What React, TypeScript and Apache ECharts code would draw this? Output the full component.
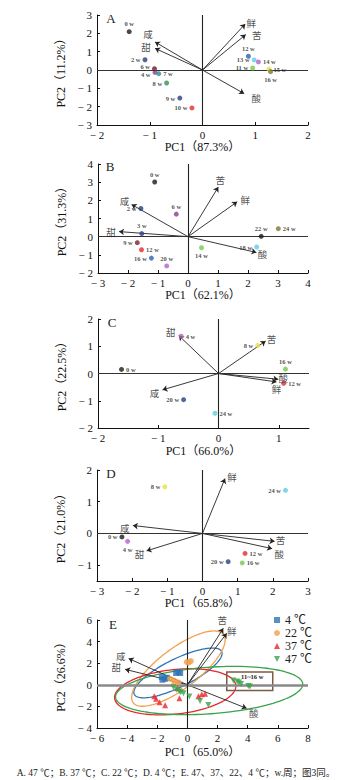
import React, { useEffect, useRef } from 'react';
import * as echarts from 'echarts';

const SERIF = '"Liberation Serif", "Times New Roman", "Noto Sans CJK SC", serif';
const CJK = '"Noto Sans CJK SC", sans-serif';

const tastes = ['咸', '甜', '鲜', '苦', '酸'];

// ---------- Panel A (47 ℃) ----------
const weeksA = ['0 w', '2 w', '4 w', '6 w', '7 w', '8 w', '9 w', '10 w', '11 w', '12 w', '13 w', '14 w', '15 w', '16 w'];
const pc1A = [-1.39, -1.09, -0.9, -0.91, -0.83, -0.68, -0.43, -0.2, 0.95, 0.87, 0.98, 1.06, 1.26, 1.29];
const pc2A = [2.09, 0.56, -0.13, 0.07, -0.2, -0.71, -1.53, -2.07, 0.11, 0.75, 0.55, 0.44, 0.05, -0.09];
const loadXA = [-0.9, -0.9, 0.81, 0.82, 0.79];
const loadYA = [1.53, 1.18, 2.51, 1.93, -1.29];
const ticksAx = [-2, -1, 0, 1, 2];
const ticksAy = [-3, -2, -1, 0, 1, 2, 3];

// ---------- Panel B (37 ℃) ----------
const weeksB = ['0 w', '2 w', '3 w', '6 w', '9 w', '12 w', '14 w', '16 w', '18 w', '20 w', '22 w', '24 w'];
const pc1B = [-1.11, -1.57, -1.54, -0.39, -1.69, -1.55, 0.45, -1.22, 2.29, -0.71, 2.44, 3.01];
const pc2B = [3.01, 1.55, 0.17, 1.24, -0.33, -0.72, -0.61, -1.18, -0.57, -1.61, 0.02, 0.44];
const loadXB = [-1.88, -2.3, 1.64, 1.01, 2.28];
const loadYB = [1.77, 0.28, 1.92, 2.73, -0.87];
const ticksBx = [-3, -2, -1, 0, 1, 2, 3, 4];
const ticksBy = [-2, -1, 0, 1, 2, 3, 4];

// ---------- Panel C (22 ℃) ----------
const weeksC = ['0 w', '4 w', '8 w', '12 w', '16 w', '20 w', '24 w'];
const pc1C = [-1.61, -0.62, 0.65, 1.08, 1.11, -0.58, -0.06];
const pc2C = [0.15, 1.37, 1.03, -0.36, 0.16, -0.96, -1.46];
const loadXC = [-0.93, -0.66, 0.96, 0.78, 0.99];
const loadYC = [-0.6, 1.39, -0.31, 1.19, -0.21];
const ticksCx = [-2, -1, 0, 1];
const ticksCy = [-2, -1, 0, 1, 2];

// ---------- Panel D (4 ℃) ----------
const weeksD = ['0 w', '4 w', '8 w', '12 w', '16 w', '20 w', '24 w'];
const pc1D = [-2.29, -2.13, -1.07, 1.21, 1.13, 0.73, 2.36];
const pc2D = [-0.11, -0.25, 1.47, -0.63, -0.93, -0.89, 1.36];
const loadXD = [-1.98, -1.59, 0.64, 2.05, 1.98];
const loadYD = [0.25, -0.55, 1.73, -0.25, -0.48];
const ticksDx = [-3, -2, -1, 0, 1, 2, 3];
const ticksDy = [-1, 0, 1, 2];

// ---------- Panel E (47, 37, 22, 4 ℃) ----------
const groupsE = ['4 ℃', '22 ℃', '37 ℃', '47 ℃'];
const e4x = [-1.7, -1.66, -1.36, -0.75, -0.6, -0.48, -1.5];
const e4y = [0.72, 0.47, 0.65, 1.09, 1.19, 1.09, 0.55];
const e22x = [-1.15, -0.9, -0.6, -0.85, -0.04, 0.23, 0.08];
const e22y = [0.56, 0.42, 0.22, 0.15, 2.1, 2.2, 2.05];
const e37x = [-2.2, -2.08, -1.85, -1.48, -0.53, 0.73, 0.95, 1.17, -0.66];
const e37y = [-1.06, -1.3, -1.62, -1.9, -1.25, -1.06, -0.87, -0.84, -0.31];
const e47x = [-0.93, -0.53, -0.44, -0.26, 0.13, 0.84, 1.39, -0.7, 3.05, 3.3, 3.42, 3.56, 4.04, 4.15];
const e47y = [-0.22, -0.59, -0.68, -0.78, -1.09, -1.5, -1.87, -0.45, 0.4, 0.3, 0.22, 0.08, -0.12, -0.15];
const loadXE = [-3.9, -4.13, 2.61, 2.38, 3.93];
const loadYE = [2.43, 1.43, 4.77, 5.23, -2.18];
const ellCx = [-0.63, -0.6, -0.81, 1.44];
const ellCy = [1.1, 1.5, -0.65, -0.53];
const ellAx = [2.9, 3.0, 4.02, 6.21];
const ellAy = [1.98, 3.15, 0.6, 0.62];
const ellBx = [-0.4, -0.79, -0.15, -0.11];
const ellBy = [1.18, 1.5, 2.05, 2.15];
const boxE = [2.61, -0.53, 5.66, 1.19];
const boxLabel = '11~16 w';
const boxLabelPos = [4.3, 0.78];
const ticksEx = [-6, -4, -2, 0, 2, 4, 6, 8];
const ticksEy = [-4, -2, 0, 2, 4, 6];

const caption = 'A. 47 ℃；B. 37 ℃；C. 22 ℃；D. 4 ℃；E. 47、37、22、4 ℃；w.周；图3同。';

// ---------- styles ----------
const colA: Record<string, string> = {
  '0 w': '#1a1a1a', '2 w': '#2c3e7e', '4 w': '#8e3c9a', '6 w': '#6b1a2e', '7 w': '#2a8f8f', '8 w': '#3d8f46',
  '9 w': '#2c3a7a', '10 w': '#e32b2b', '11 w': '#74c84c', '12 w': '#2e5fb0', '13 w': '#5ccde0', '14 w': '#b462c8',
  '15 w': '#e8e040', '16 w': '#7a7a2e',
};
const colB: Record<string, string> = {
  '0 w': '#1a1a1a', '2 w': '#2c3e7e', '3 w': '#2c3e7e', '6 w': '#8e3c9a', '9 w': '#7a2030', '12 w': '#e32b2b',
  '14 w': '#74c84c', '16 w': '#2e5fb0', '18 w': '#5ccde0', '20 w': '#b462c8', '22 w': '#1a1a1a', '24 w': '#7a7a2e',
};
const colCD: Record<string, string> = {
  '0 w': '#1a1a1a', '4 w': '#b462c8', '8 w': '#e8e040', '12 w': '#e32b2b', '16 w': '#74c84c', '20 w': '#2c3e7e', '24 w': '#5ccde0',
};
const posA: Record<string, string> = {
  '0 w': 'top', '2 w': 'left', '4 w': 'left', '6 w': 'left', '7 w': 'right', '8 w': 'left', '9 w': 'left', '10 w': 'left',
  '11 w': 'left', '12 w': 'top', '13 w': 'left', '14 w': 'right', '15 w': 'right', '16 w': 'bottom',
};
const offPtA: Record<string, number[]> = { '6 w': [0, -2], '4 w': [0, 2] };
const posB: Record<string, string> = {
  '0 w': 'top', '2 w': 'left', '3 w': 'top', '6 w': 'top', '9 w': 'left', '12 w': 'right', '14 w': 'bottom', '16 w': 'left',
  '18 w': 'left', '20 w': 'top', '22 w': 'top', '24 w': 'right',
};
const posC: Record<string, string> = {
  '0 w': 'right', '4 w': 'right', '8 w': 'left', '12 w': 'right', '16 w': 'top', '20 w': 'left', '24 w': 'right',
};
const posD: Record<string, string> = {
  '0 w': 'left', '4 w': 'bottom', '8 w': 'left', '12 w': 'right', '16 w': 'right', '20 w': 'left', '24 w': 'left',
};
const offA: Record<string, number[]> = { '咸': [-7, -8], '甜': [-9, -1], '鲜': [6, -1], '苦': [11, 0], '酸': [12, 4] };
const offB: Record<string, number[]> = { '咸': [-7, -4], '甜': [-8, 0], '鲜': [8, -2], '苦': [2, -7], '酸': [6, 2] };
const offC: Record<string, number[]> = { '咸': [-8, 3], '甜': [-8, -4], '鲜': [0, 7], '苦': [6, -2], '酸': [5, -1] };
const offD: Record<string, number[]> = { '咸': [-8, 2], '甜': [-7, 3], '鲜': [7, -2], '苦': [6, -1], '酸': [7, 5] };
const offE: Record<string, number[]> = { '咸': [-8, -3], '甜': [-9, -2], '鲜': [5, -2], '苦': [-1, -8], '酸': [7, 5] };
const groupColors = ['#2e74b5', '#f2a04c', '#e8262b', '#3aa34a'];
const groupSymbols = ['rect', 'circle', 'triangle', 'path://M0,0L10,0L5,10Z'];

const grids = [
  { left: 97, top: 15, width: 211, height: 110 },
  { left: 98, top: 164, width: 210, height: 109 },
  { left: 98, top: 319, width: 211, height: 109 },
  { left: 97, top: 470, width: 211, height: 111 },
  { left: 97, top: 620, width: 211, height: 108 },
];

const fmt = (v: number) => (v < 0 ? '− ' + Math.abs(v) : String(v));

function xAxisOf(i: number, min: number, max: number, ticks: number[], name: string, gap: number) {
  return {
    gridIndex: i, type: 'value', min, max,
    axisLine: { show: true, onZero: false, lineStyle: { color: '#111', width: 1 } },
    axisTick: { show: true, inside: true, length: 3, customValues: ticks, lineStyle: { color: '#111' } },
    axisLabel: { customValues: ticks, formatter: fmt, fontSize: 11, fontFamily: SERIF, color: '#111', margin: 4 },
    splitLine: { show: false },
    name, nameLocation: 'middle', nameGap: gap,
    nameTextStyle: { fontSize: 12, fontFamily: SERIF, color: '#111' },
  };
}
function yAxisOf(i: number, min: number, max: number, ticks: number[], name: string) {
  return {
    gridIndex: i, type: 'value', min, max,
    axisLine: { show: true, onZero: false, lineStyle: { color: '#111', width: 1 } },
    axisTick: { show: true, inside: true, length: 3, customValues: ticks, lineStyle: { color: '#111' } },
    axisLabel: { customValues: ticks, formatter: fmt, fontSize: 11, fontFamily: SERIF, color: '#111', margin: 5 },
    splitLine: { show: false },
    name, nameLocation: 'middle', nameGap: 21,
    nameTextStyle: { fontSize: 12, fontFamily: SERIF, color: '#111' },
  };
}

function zeroLines(thick: boolean) {
  return {
    silent: true, symbol: 'none', label: { show: false },
    lineStyle: { type: 'solid', color: '#333', width: 1 },
    data: [
      { yAxis: 0, lineStyle: thick ? { color: '#8a8a8a', width: 2.5, type: 'solid' } : { color: '#333', width: 1.1, type: 'solid' } },
      { xAxis: 0, lineStyle: { color: '#222', width: 1.1, type: 'solid' } },
    ],
  };
}

function loadingSeries(i: number, lx: number[], ly: number[], off: Record<string, number[]>) {
  return [
    {
      type: 'lines', coordinateSystem: 'cartesian2d', xAxisIndex: i, yAxisIndex: i, silent: true, z: 4,
      symbol: ['none', 'arrow'], symbolSize: 5,
      lineStyle: { color: '#222', width: 0.9, opacity: 1, curveness: 0 },
      data: tastes.map((t, k) => ({ name: t, coords: [[0, 0], [lx[k], ly[k]]] })),
    },
    {
      type: 'scatter', xAxisIndex: i, yAxisIndex: i, silent: true, z: 6, symbolSize: 1,
      itemStyle: { color: 'rgba(0,0,0,0)' },
      data: tastes.map((t, k) => ({ name: t, value: [lx[k], ly[k]], label: { offset: off[t] } })),
      label: { show: true, position: 'inside', formatter: '{b}', fontSize: 9.5, lineHeight: 10, color: '#222', fontFamily: CJK },
    },
  ];
}

function pointSeries(i: number, weeks: string[], xs: number[], ys: number[], col: Record<string, string>, pos: Record<string, string>, offs: Record<string, number[]> = {}) {
  return {
    type: 'scatter', xAxisIndex: i, yAxisIndex: i, symbolSize: 5, z: 5,
    data: weeks.map((w, k) => ({
      name: w, value: [xs[k], ys[k]], itemStyle: { color: col[w] },
      label: { position: pos[w], offset: offs[w] || [0, 0] },
    })),
    label: { show: true, formatter: '{b}', fontSize: 6.5, fontWeight: 'bold', fontFamily: SERIF, color: '#222', distance: 2 },
    markLine: zeroLines(false),
  };
}

export default function App() {
  const ref = useRef<HTMLDivElement>(null);
  useEffect(() => {
    document.body.style.margin = '0';
    if (!ref.current) return;
    const chart = echarts.init(ref.current, null, { renderer: 'svg' });
    const eSets = [[e4x, e4y], [e22x, e22y], [e37x, e37y], [e47x, e47y]];
    const option: any = {
      animation: false,
      backgroundColor: '#fff',
      grid: grids,
      xAxis: [
        xAxisOf(0, -2, 2, ticksAx, 'PC1（87.3%）', 16),
        xAxisOf(1, -3, 4, ticksBx, 'PC1（62.1%）', 16),
        xAxisOf(2, -2, 1.5, ticksCx, 'PC1（66.0%）', 17),
        xAxisOf(3, -3, 3, ticksDx, 'PC1（65.8%）', 15),
        xAxisOf(4, -6, 8, ticksEx, 'PC1（65.0%）', 18),
      ],
      yAxis: [
        yAxisOf(0, -3, 3, ticksAy, 'PC2（11.2%）'),
        yAxisOf(1, -2, 4, ticksBy, 'PC2（31.3%）'),
        yAxisOf(2, -2, 2, ticksCy, 'PC2（22.5%）'),
        yAxisOf(3, -1.5, 2, ticksDy, 'PC2（21.0%）'),
        yAxisOf(4, -4, 6, ticksEy, 'PC2（26.6%）'),
      ],
      legend: {
        data: groupsE.map((g, k) => ({ name: g, icon: groupSymbols[k] })),
        orient: 'vertical', left: 269, top: 609, itemWidth: 6, itemHeight: 6, itemGap: 1,
        textStyle: { fontSize: 12, fontFamily: SERIF, color: '#222' },
        selectedMode: false,
      },
      graphic: [
        ...['A', 'B', 'C', 'D', 'E'].map((t, k) => ({
          type: 'text', x: [111, 110, 112, 111, 113][k], y: [18, 166, 322, 473, 624][k],
          style: { text: t, font: '13px "Liberation Serif"', fill: '#222', textAlign: 'center', textVerticalAlign: 'middle' },
        })),
        {
          type: 'text', x: 176, y: 773,
          style: { text: caption, font: '9.5px "Liberation Serif", "Noto Sans CJK SC"', fill: '#222', textAlign: 'center', textVerticalAlign: 'middle' },
        },
      ],
      series: [
        pointSeries(0, weeksA, pc1A, pc2A, colA, posA, offPtA),
        ...loadingSeries(0, loadXA, loadYA, offA),
        pointSeries(1, weeksB, pc1B, pc2B, colB, posB),
        ...loadingSeries(1, loadXB, loadYB, offB),
        pointSeries(2, weeksC, pc1C, pc2C, colCD, posC),
        ...loadingSeries(2, loadXC, loadYC, offC),
        pointSeries(3, weeksD, pc1D, pc2D, colCD, posD),
        ...loadingSeries(3, loadXD, loadYD, offD),
        {
          type: 'custom', xAxisIndex: 4, yAxisIndex: 4, silent: true, z: 2,
          data: ellCx.map((c, k) => [c, ellCy[k], k]),
          renderItem: (params: any, api: any) => {
            const k = params.dataIndex;
            const pts: number[][] = [];
            for (let s = 0; s <= 120; s++) {
              const t = (s / 120) * Math.PI * 2;
              pts.push(api.coord([
                ellCx[k] + Math.cos(t) * ellAx[k] + Math.sin(t) * ellBx[k],
                ellCy[k] + Math.cos(t) * ellAy[k] + Math.sin(t) * ellBy[k],
              ]));
            }
            return { type: 'polyline', shape: { points: pts }, style: { stroke: groupColors[k], lineWidth: 1.3, fill: 'none' } };
          },
        },
        {
          type: 'custom', xAxisIndex: 4, yAxisIndex: 4, silent: true, z: 3,
          data: [boxE],
          renderItem: (params: any, api: any) => {
            const p1 = api.coord([boxE[0], boxE[1]]);
            const p2 = api.coord([boxE[2], boxE[3]]);
            const pl = api.coord(boxLabelPos);
            return {
              type: 'group',
              children: [
                { type: 'rect', shape: { x: p1[0], y: p2[1], width: p2[0] - p1[0], height: p1[1] - p2[1] }, style: { fill: 'none', stroke: '#7b5b43', lineWidth: 1.5 } },
                { type: 'text', x: pl[0], y: pl[1], style: { text: boxLabel, font: 'bold 6.5px "Liberation Serif"', fill: '#222', textAlign: 'center', textVerticalAlign: 'middle' } },
              ],
            };
          },
        },
        ...eSets.map((d, k) => ({
          type: 'scatter', name: groupsE[k], xAxisIndex: 4, yAxisIndex: 4, z: 5,
          symbol: groupSymbols[k], symbolSize: 6,
          itemStyle: { color: groupColors[k] },
          data: d[0].map((x, j) => [x, d[1][j]]),
          markLine: k === 0 ? zeroLines(true) : undefined,
        })),
        ...loadingSeries(4, loadXE, loadYE, offE),
      ],
    };
    chart.setOption(option);
    return () => chart.dispose();
  }, []);
  return <div ref={ref} style={{ width: 353, height: 780 }} />;
}
